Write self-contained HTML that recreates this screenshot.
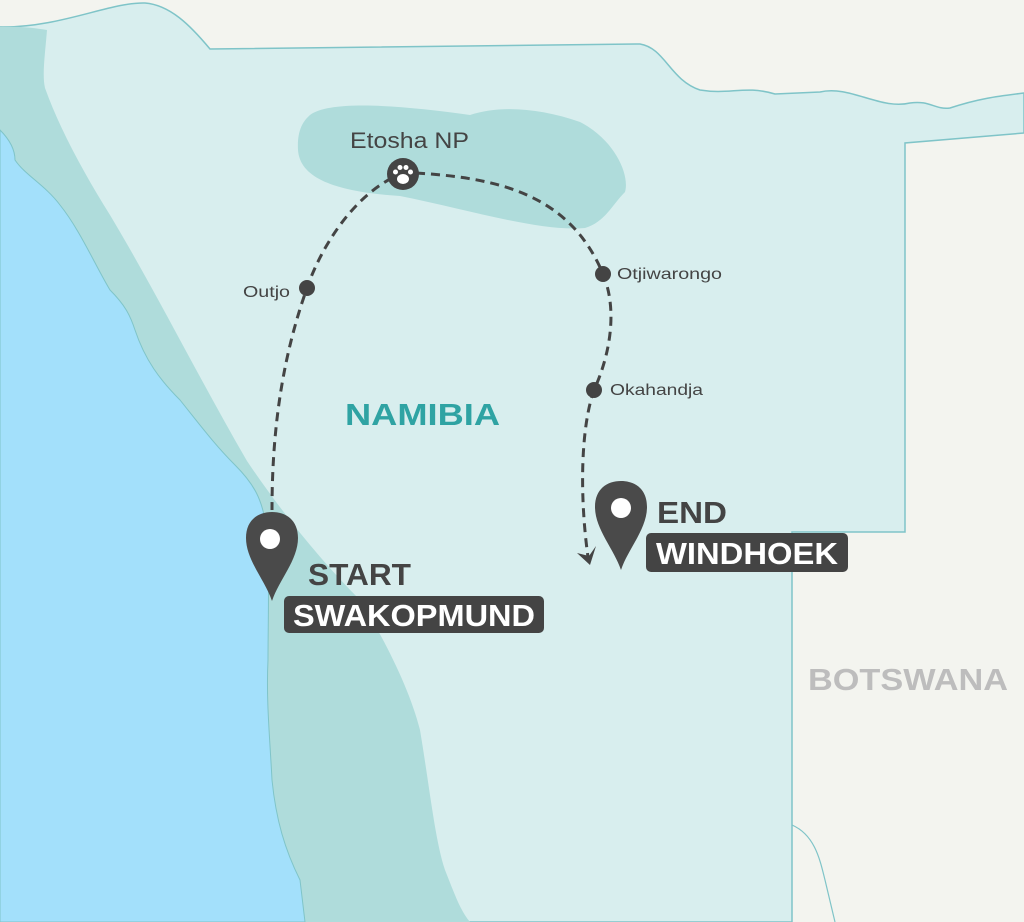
<!DOCTYPE html>
<html><head><meta charset="utf-8"><style>html,body{margin:0;padding:0}svg{display:block}text{font-family:"Liberation Sans",sans-serif}</style></head>
<body>
<svg width="1024" height="922" viewBox="0 0 1024 922" xmlns="http://www.w3.org/2000/svg">
<rect width="1024" height="922" fill="#f3f4ef"/>
<path d="M0,27 C60,28 110,2 145,3 C170,5 190,25 210,49 L640,44 C665,48 670,80 700,90 C730,95 745,85 775,94 L820,92 C850,85 880,110 910,103 C930,100 935,110 950,108 C980,98 1000,96 1024,93 L1024,133 L905,143 L905,532 L792,532 L792,922 L0,922 Z" fill="#d8eeee" stroke="#7fc4c8" stroke-width="1.5"/>
<path d="M792,825 C815,835 820,860 825,880 L835,922" fill="none" stroke="#7fc4c8" stroke-width="1.2"/>
<path d="M0,27 C20,26 35,28 47,30 C45,55 42,75 45,88 C60,130 85,175 110,215 C155,290 200,380 247,461 C280,510 320,560 360,600 C385,640 410,690 420,730 C430,790 435,840 445,870 C455,895 460,910 470,922 L310,922 L0,922 Z" fill="#afdcdb"/>
<path d="M0,130 C10,140 15,150 15,160 C25,175 45,185 60,205 C80,230 95,265 110,290 C125,305 130,315 135,330 C145,360 160,380 180,400 C200,425 215,445 235,465 C255,485 262,500 266,525 C270,560 268,620 268,660 C266,700 270,740 272,780 C276,820 285,850 300,880 L305,922 L0,922 Z" fill="#a3e0fb" stroke="#7fc4c8" stroke-width="1"/>
<path d="M310,115 C330,100 400,105 470,115 C500,105 540,108 580,122 C615,140 630,175 625,192 C612,205 605,222 585,228 C540,232 470,210 400,196 C340,192 300,180 298,150 C297,132 302,122 310,115 Z" fill="#afdcdb"/>
<g fill="none" stroke="#444" stroke-width="3" stroke-dasharray="9,6">
<path d="M392,178 C350,200 320,250 307,288 C285,350 272,420 272,510"/>
<path d="M416,173 C500,178 570,195 603,274 C618,310 610,355 594,390 C580,430 580,500 588,557"/>
</g>
<path d="M577,553 L590,565 L596,546 L589,556 Z" fill="#444"/>
<circle cx="403" cy="174" r="16" fill="#444"/>
<g fill="#fff"><ellipse cx="403" cy="179" rx="6" ry="5"/><circle cx="395.5" cy="172" r="2.5"/><circle cx="400" cy="167.5" r="2.5"/><circle cx="406" cy="167.5" r="2.5"/><circle cx="410.5" cy="172" r="2.5"/></g>
<circle cx="307" cy="288" r="8" fill="#444"/>
<circle cx="603" cy="274" r="8" fill="#444"/>
<circle cx="594" cy="390" r="8" fill="#444"/>
<text x="350" y="148" font-size="22" fill="#444" textLength="119" lengthAdjust="spacingAndGlyphs">Etosha NP</text>
<text x="243" y="297" font-size="16" fill="#444" textLength="47" lengthAdjust="spacingAndGlyphs">Outjo</text>
<text x="617" y="279" font-size="16" fill="#444" textLength="105" lengthAdjust="spacingAndGlyphs">Otjiwarongo</text>
<text x="610" y="395" font-size="16" fill="#444" textLength="93" lengthAdjust="spacingAndGlyphs">Okahandja</text>
<text x="345" y="425" font-size="31" font-weight="bold" fill="#2fa3a3" textLength="155" lengthAdjust="spacingAndGlyphs">NAMIBIA</text>
<text x="808" y="690" font-size="31" font-weight="bold" fill="#bdbdbd" textLength="200" lengthAdjust="spacingAndGlyphs">BOTSWANA</text>
<path d="M272,601 C265,580 246,560 246,538 C246,520 258,512 272,512 C286,512 298,520 298,538 C298,560 279,580 272,601 Z" fill="#4a4a4a"/>
<circle cx="270" cy="539" r="10" fill="#fff"/>
<path d="M621,570 C614,549 595,529 595,507 C595,489 607,481 621,481 C635,481 647,489 647,507 C647,529 628,549 621,570 Z" fill="#4a4a4a"/>
<circle cx="621" cy="508" r="10" fill="#fff"/>
<text x="308" y="585" font-size="31" font-weight="bold" fill="#444" textLength="103" lengthAdjust="spacingAndGlyphs">START</text>
<rect x="284" y="596" width="260" height="37" rx="5" fill="#444"/>
<text x="293" y="626" font-size="31" font-weight="bold" fill="#fff" textLength="242" lengthAdjust="spacingAndGlyphs">SWAKOPMUND</text>
<text x="657" y="523" font-size="31" font-weight="bold" fill="#444" textLength="70" lengthAdjust="spacingAndGlyphs">END</text>
<rect x="646" y="533" width="202" height="39" rx="5" fill="#444"/>
<text x="656" y="564" font-size="31" font-weight="bold" fill="#fff" textLength="182" lengthAdjust="spacingAndGlyphs">WINDHOEK</text>
</svg>
</body></html>
